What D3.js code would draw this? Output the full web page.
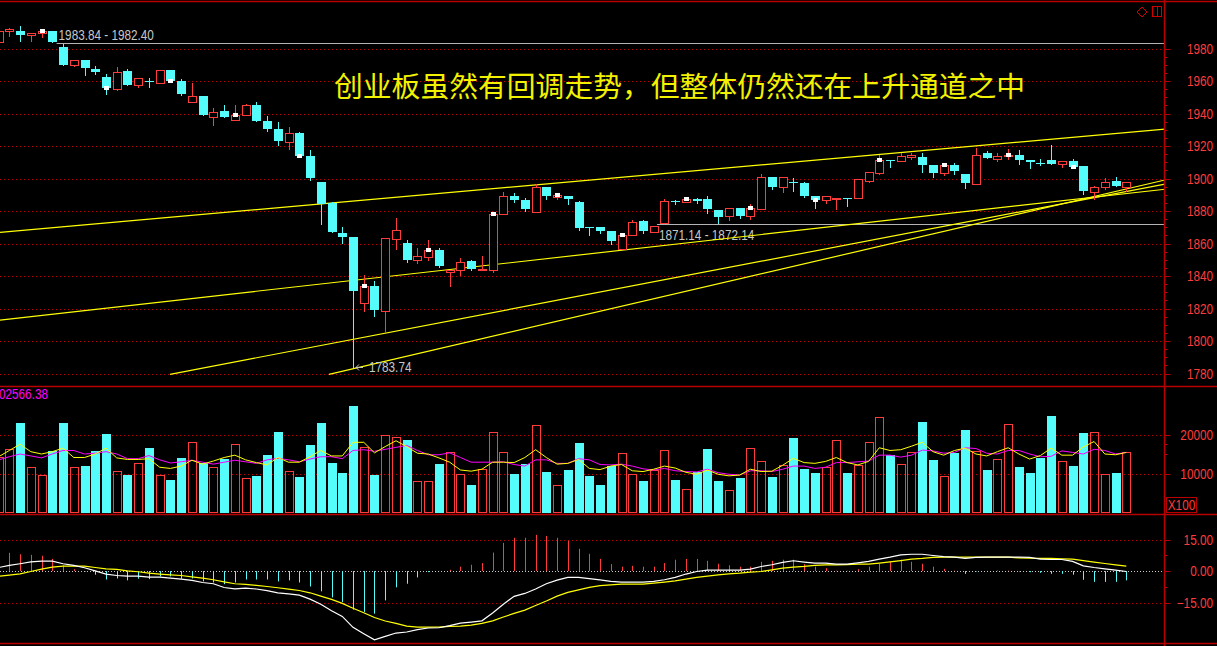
<!DOCTYPE html>
<html>
<head>
<meta charset="utf-8">
<script src="https://cdn.jsdelivr.net/npm/d3@7"></script>
<style>
  body { margin: 0; background: #000; overflow: hidden; }
</style>
</head>
<body>
<script>
// daily candles
const opens = [1984.2,1990.6,1990.8,1988.1,1989.4,1990.8,1980.9,1970.0,1972.7,1967.4,
  1962.5,1955.1,1966.2,1957.4,1960.2,1959.0,1966.8,1960.0,1947.3,1950.8,
  1938.0,1941.5,1935.8,1938.9,1945.2,1935.4,1930.5,1922.6,1927.8,1913.8,
  1897.8,1884.7,1866.5,1864.0,1823.6,1833.8,1818.6,1863.0,1860.3,1850.0,
  1851.9,1856.0,1842.6,1843.5,1849.2,1843.5,1843.9,1878.0,1889.0,1886.8,
  1879.6,1894.8,1888.8,1889.0,1885.5,1870.2,1870.2,1867.7,1856.8,1865.0,
  1873.6,1867.3,1872.4,1886.2,1885.7,1887.4,1887.4,1880.6,1876.7,1881.8,
  1877.1,1881.4,1900.9,1894.6,1898.0,1897.2,1889.2,1886.6,1887.2,1888.2,
  1887.8,1898.5,1903.6,1911.4,1911.0,1913.4,1913.2,1908.3,1903.6,1908.3,
  1902.8,1896.8,1915.5,1912.2,1913.6,1914.5,1911.4,1909.7,1911.2,1909.1,
  1910.8,1907.7,1891.9,1894.6,1898.5,1894.6];
const highs = [1991.5,1992.6,1994.0,1989.5,1992.2,1990.8,1983.0,1972.7,1972.7,1969.0,
  1964.3,1968.6,1967.4,1961.7,1961.7,1966.8,1966.8,1961.2,1959.0,1950.8,
  1943.4,1945.2,1945.2,1945.8,1947.1,1938.5,1934.8,1931.7,1928.6,1917.5,
  1897.8,1885.5,1870.2,1864.0,1840.6,1836.9,1863.2,1875.7,1862.2,1857.2,
  1862.2,1857.0,1843.5,1851.1,1849.8,1852.3,1878.2,1891.7,1891.1,1888.2,
  1896.6,1894.8,1891.0,1889.0,1886.3,1870.2,1870.2,1867.7,1865.2,1874.4,
  1874.4,1870.6,1887.4,1887.0,1887.2,1888.2,1889.2,1880.6,1881.7,1881.8,
  1884.5,1902.8,1900.9,1900.9,1900.3,1897.8,1889.2,1889.2,1888.0,1888.2,
  1899.7,1903.8,1914.3,1911.4,1915.5,1915.9,1915.9,1908.3,1908.5,1909.5,
  1902.8,1918.6,1916.7,1915.5,1918.2,1917.5,1911.4,1912.0,1920.6,1910.6,
  1912.0,1907.7,1895.4,1900.1,1900.9,1897.8];
const lows = [1983.5,1987.9,1984.8,1984.8,1987.3,1984.2,1970.0,1969.2,1963.9,1964.5,
  1952.2,1954.5,1957.7,1956.1,1956.1,1959.0,1960.0,1951.4,1947.3,1939.1,
  1932.9,1938.0,1935.8,1938.9,1935.6,1929.4,1920.6,1918.3,1914.0,1899.1,
  1872.0,1867.1,1860.3,1783.7,1818.6,1815.6,1805.7,1856.8,1848.6,1848.2,
  1849.8,1845.7,1834.0,1840.8,1843.5,1843.5,1842.6,1878.0,1885.7,1880.0,
  1879.6,1887.6,1887.6,1884.5,1868.3,1865.4,1866.6,1859.9,1856.8,1865.0,
  1866.6,1867.3,1872.4,1884.1,1885.7,1885.1,1878.6,1872.8,1874.6,1875.7,
  1875.0,1881.4,1893.7,1891.9,1892.5,1888.8,1881.8,1885.1,1881.4,1883.1,
  1887.8,1897.7,1902.5,1907.3,1911.0,1912.2,1904.0,1901.1,1902.3,1903.0,
  1894.3,1896.8,1912.8,1911.0,1912.2,1909.1,1906.6,1908.5,1909.1,1907.3,
  1907.3,1890.6,1887.2,1893.7,1895.6,1892.3];
const closes = [1990.8,1991.8,1988.3,1989.5,1990.8,1984.2,1970.0,1972.7,1968.2,1965.7,
  1955.7,1965.4,1957.7,1961.7,1959.9,1966.8,1960.0,1952.2,1950.6,1939.1,
  1940.7,1938.0,1939.1,1945.2,1935.6,1930.6,1923.3,1928.0,1914.0,1900.3,
  1884.3,1867.1,1864.2,1831.0,1833.8,1819.1,1863.2,1868.3,1849.8,1852.1,
  1856.0,1846.0,1843.5,1848.4,1844.5,1844.5,1878.2,1889.0,1886.8,1881.4,
  1894.8,1889.4,1889.8,1887.4,1869.7,1869.7,1867.9,1861.7,1865.2,1873.2,
  1867.7,1870.6,1886.2,1885.5,1887.2,1886.3,1881.2,1876.5,1881.7,1877.1,
  1881.7,1900.9,1895.0,1900.9,1897.4,1889.2,1886.8,1889.2,1888.0,1887.8,
  1899.7,1903.8,1911.4,1910.8,1913.8,1914.6,1908.5,1903.6,1908.5,1904.8,
  1897.4,1914.3,1912.8,1913.8,1914.6,1911.6,1910.3,1909.1,1909.1,1910.6,
  1907.3,1892.3,1894.6,1897.8,1895.6,1897.8];
// candles carrying the small white close mark
const markIdx = [4,10,16,22,28,34,40,46,52,58,64,70,76,82,88,94,100];

// volume (x100) and its two averages
const volumes = [14300,16200,22900,11600,9500,15800,22900,11600,11900,15800,
  20100,10600,9600,12600,16500,9500,8300,14000,18200,12600,
  11600,13700,17500,8800,9400,14700,20600,10600,9100,17300,
  22900,12700,10100,27300,16700,9600,19800,19300,18600,8200,
  8000,12400,15400,9800,7100,11100,20600,15400,9900,12400,
  22400,10400,7000,10900,17800,9400,7100,11900,15200,9800,
  8100,10900,15900,8300,5900,10500,16300,8100,5700,8800,
  16500,13100,9100,12100,19100,11200,10100,11600,18500,10100,
  12100,18200,24400,14700,12400,15400,23200,13500,9300,15300,
  21200,15700,10900,13600,22600,11700,10100,14000,24700,13100,
  11900,20400,20700,10000,10100,15400];
const volMa5 = [14300,15900,17500,15600,15000,15600,16500,14100,14100,15000,
  16500,14000,13600,13600,13800,11600,11300,11900,13400,12400,
  13200,14100,14700,13500,12800,12200,14100,12900,12900,14300,
  15900,14500,14500,18000,18000,15300,16900,18400,16900,15200,
  15000,14000,12900,10900,10600,11100,12900,12900,12800,14100,
  16100,14100,12400,12600,13600,11300,11000,11900,12300,10700,
  10500,11100,11900,11400,10300,9800,10900,9800,9400,9600,
  11100,10500,10600,12100,13900,12800,12600,13100,14100,12800,
  12200,13100,16600,15900,16100,17000,18000,15600,14700,15900,
  16500,15000,14500,15600,16600,15000,13700,14600,16500,14700,
  14700,16800,18200,15000,14800,15400];
const volMa10 = [13500,14300,15000,14500,14000,15000,15900,15900,15000,15200,
  15600,15000,13800,13800,14600,13500,12700,13000,13400,12900,
  12400,12900,13400,13000,12600,13500,13900,13500,13000,13700,
  14300,14300,13800,15900,16100,15700,16200,16700,17200,15900,
  14800,14800,15300,14100,12900,12900,12900,13000,12300,11900,
  13500,13500,12600,12600,13800,13500,12300,12200,12400,11900,
  11200,10900,11300,10700,10500,10400,11100,10200,9800,9600,
  10700,10700,10500,11100,11900,11900,11300,11600,12800,12800,
  13000,13200,14700,14700,14200,14700,16000,15800,15200,15400,
  16600,16400,15200,15000,15900,15900,15000,14300,14400,15800,
  15400,15000,16200,15900,15000,15400];

// MACD
const dif = [1.7,2.7,3.5,4.4,4.7,4.7,3.5,2.7,1.6,0.1,
  -1.4,-2.1,-2.4,-2.4,-2.9,-2.9,-3.3,-3.8,-4.4,-5.4,
  -6.0,-7.8,-8.4,-8.1,-8.5,-9.3,-10.3,-10.8,-11.4,-13.3,
  -15.7,-18.8,-21.5,-26.7,-29.7,-32.6,-31.0,-29.4,-28.9,-27.8,
  -27.0,-26.9,-25.9,-24.7,-24.2,-23.6,-19.9,-15.7,-12.0,-10.6,
  -8.5,-6.0,-4.3,-3.0,-3.0,-3.6,-4.2,-4.9,-5.2,-5.2,
  -5.2,-4.9,-4.1,-3.0,-1.4,-0.2,0.5,0.5,0.5,0.5,
  0.9,2.2,3.0,4.1,4.9,4.3,3.8,3.8,3.3,3.3,
  3.9,4.6,5.7,6.6,7.7,8.0,8.0,7.4,6.9,6.6,
  6.0,6.5,6.6,6.6,6.6,6.6,6.5,5.7,5.5,5.5,
  4.6,2.5,1.7,1.1,0.5,-0.2];
const dea = [-2.5,-1.9,-1.3,-0.2,0.9,1.9,2.4,2.4,2.4,1.7,
  1.1,0.8,0.1,-0.3,-1.0,-1.4,-1.8,-2.1,-2.7,-3.3,
  -4.1,-5.1,-6.0,-6.3,-6.8,-7.3,-7.9,-8.6,-9.2,-10.3,
  -11.9,-13.4,-15.3,-17.6,-19.8,-22.0,-23.7,-24.8,-26.1,-26.6,
  -26.6,-26.6,-26.2,-26.1,-25.6,-24.8,-23.6,-21.8,-20.1,-18.5,
  -16.3,-14.2,-11.9,-10.1,-8.9,-7.7,-6.9,-6.5,-6.2,-6.2,
  -6.2,-5.7,-5.2,-4.6,-3.8,-3.0,-2.4,-1.8,-1.3,-1.0,
  -0.5,-0.2,0.6,1.4,1.9,2.2,2.7,3.0,3.0,3.1,
  3.3,3.3,3.8,4.4,5.0,5.7,6.0,6.5,6.6,6.6,
  6.6,6.6,6.6,6.6,6.6,6.3,6.1,6.0,6.0,5.8,
  5.7,5.0,4.3,3.6,3.0,2.4];
const macdHist = [8.4,8.7,8.0,7.7,7.3,5.8,2.7,0.9,-0.2,-1.7,
  -4.0,-3.5,-4.4,-3.6,-3.8,-2.5,-2.5,-3.6,-3.5,-4.9,
  -5.4,-6.2,-5.4,-4.0,-4.0,-4.0,-4.9,-4.4,-5.4,-7.3,
  -9.6,-12.5,-14.7,-18.3,-19.4,-20.2,-13.9,-7.7,-6.0,-3.0,
  -0.5,0.1,0.6,2.1,3.0,3.8,8.8,13.4,15.8,15.8,
  17.2,16.7,15.8,14.4,10.6,8.2,5.8,3.3,2.1,2.5,
  2.1,2.1,3.8,5.4,5.8,5.8,4.9,3.5,2.8,2.1,
  2.1,4.4,4.9,5.4,5.4,3.3,2.1,1.4,0.2,0.2,
  0.9,2.1,3.5,4.4,5.4,4.4,3.5,2.1,1.1,0.2,
  -1.3,-0.2,0.1,0.3,0.2,-0.2,-0.5,-0.8,-1.3,-1.3,
  -1.7,-4.1,-5.1,-5.1,-5.1,-4.4];

// hand-drawn trend lines: [candle index, price] end points
const trendLines = [
  [[0.13, 1866.9], [108.6, 1930.4]],
  [[0.13, 1812.9], [108.6, 1893.4]],
  [[15.96, 1779.5], [108.6, 1896.6]],
  [[30.76, 1779.5], [108.6, 1899.1]]
];
// price range markers
const rangeLines = [
  { from: 5.4, price: 1983.2, label: "1983.84 - 1982.40" },
  { from: 61.3, price: 1872.0, label: "1871.14 - 1872.14" }
];
const lowMark = { idx: 33, price: 1783.74, label: "1783.74" };

const priceTicks = [1780,1800,1820,1840,1860,1880,1900,1920,1940,1960,1980];
const volTicks = [10000, 20000];
const macdTicks = [-15, 0, 15];
const title = "创业板虽然有回调走势，但整体仍然还在上升通道之中";

const W = 1217, H = 646;
const axisX = 1164.5;
const RED = "#ff3c3c", CYAN = "#54fcfc", FRAME = "#b80000", GRIDC = "#c00000";
const NUMFONT = "'Liberation Sans', Arial, sans-serif";

const svg = d3.select("body").append("svg")
  .attr("width", W).attr("height", H)
  .style("background", "#000")
  .style("display", "block");

const x = d3.scaleLinear().domain([0, 105]).range([-1.41, 1126.3]);
const yP = d3.scaleLinear().domain([1780, 1980]).range([373.5, 48.5]);
const yV = d3.scaleLinear().domain([0, 20000]).range([512.5, 434.5]);
const yM = d3.scaleLinear().domain([-15, 15]).range([602.7, 539.5]);

const idx = d3.range(opens.length);
const cx = i => Math.round(x(i));

// narrow numeric text: regular face squeezed horizontally
function numText(g, tx, ty, str, fill, anchor) {
  return g.append("text")
    .attr("transform", `translate(${tx},${ty}) scale(0.84,1)`)
    .attr("text-anchor", anchor || "start")
    .attr("fill", fill)
    .style("font-family", NUMFONT).style("font-size", "14px")
    .text(str);
}

// clip regions per pane
const defs = svg.append("defs");
[["clipP", 2, 384], ["clipV", 387, 127], ["clipM", 515, 128]].forEach(c => {
  defs.append("clipPath").attr("id", c[0])
    .append("rect").attr("x", 0).attr("y", c[1]).attr("width", axisX).attr("height", c[2]);
});

// dotted grid lines
function grid(g, scale, ticks) {
  g.selectAll("line.grid").data(ticks).join("line")
    .attr("class", "grid")
    .attr("x1", 0).attr("x2", axisX - 2)
    .attr("y1", d => Math.round(scale(d)) + 0.5)
    .attr("y2", d => Math.round(scale(d)) + 0.5)
    .attr("stroke", GRIDC).attr("stroke-width", 1)
    .attr("stroke-dasharray", "1,3");
}

// ---------- price pane ----------
const gP = svg.append("g").attr("clip-path", "url(#clipP)");
grid(gP, yP, priceTicks);

gP.append("text")
  .attr("x", 334).attr("y", 97)
  .attr("fill", "#f2f200")
  .style("font-family", "'Noto Sans CJK SC', sans-serif")
  .style("font-size", "28.8px")
  .text(title);

rangeLines.forEach((r, k) => {
  const yy = Math.round(yP(r.price)) + 0.5;
  gP.append("line")
    .attr("x1", x(r.from)).attr("x2", axisX)
    .attr("y1", yy).attr("y2", yy)
    .attr("stroke", "#b4b4b4").attr("stroke-width", 1);
  numText(gP, x(r.from) + 2, k === 0 ? yy - 4 : yy + 15, r.label, "#c8c8c8");
});

const trend = d3.line().x(d => x(d[0])).y(d => yP(d[1]));
gP.selectAll("path.trend").data(trendLines).join("path")
  .attr("class", "trend")
  .attr("d", trend)
  .attr("fill", "none").attr("stroke", "#ffff00").attr("stroke-width", 1.2);

// wicks
gP.selectAll("line.wick").data(idx).join("line")
  .attr("class", "wick")
  .attr("x1", i => cx(i) + 0.5).attr("x2", i => cx(i) + 0.5)
  .attr("y1", i => Math.round(yP(highs[i])))
  .attr("y2", i => Math.round(yP(lows[i])) + 1)
  .attr("stroke", i => closes[i] > opens[i] ? RED : CYAN)
  .attr("stroke-width", 1);

// bodies
gP.selectAll("rect.body").data(idx).join("rect")
  .attr("class", "body")
  .each(function (i) {
    const up = closes[i] > opens[i];
    const t = Math.round(yP(Math.max(opens[i], closes[i])));
    const b = Math.round(yP(Math.min(opens[i], closes[i])));
    const el = d3.select(this);
    if (up) {
      el.attr("x", cx(i) - 4 + 0.5).attr("y", t + 0.5)
        .attr("width", 8).attr("height", Math.max(b - t, 0))
        .attr("fill", "#000").attr("stroke", RED).attr("stroke-width", 1);
    } else {
      el.attr("x", cx(i) - 4).attr("y", t)
        .attr("width", 9).attr("height", Math.max(b - t, 1))
        .attr("fill", CYAN);
    }
  });

// white close marks
gP.selectAll("rect.mark").data(markIdx).join("rect")
  .attr("class", "mark")
  .attr("x", i => cx(i) - 2).attr("y", i => Math.round(yP(closes[i])) - 2)
  .attr("width", 5).attr("height", 4)
  .attr("fill", "#fff");

// low annotation
const lx = cx(lowMark.idx) + 2, ly = yP(lowMark.price);
gP.append("path")
  .attr("d", `M${lx + 8},${ly} L${lx + 1},${ly} M${lx + 4},${ly - 3} L${lx + 1},${ly} L${lx + 4},${ly + 3}`)
  .attr("stroke", "#c8c8c8").attr("fill", "none").attr("stroke-width", 1);
numText(gP, lx + 14, ly + 5, lowMark.label, "#c8c8c8");

// ---------- volume pane ----------
const gV = svg.append("g").attr("clip-path", "url(#clipV)");
grid(gV, yV, volTicks);

gV.selectAll("rect.vol").data(idx).join("rect")
  .attr("class", "vol")
  .each(function (i) {
    const up = closes[i] > opens[i];
    const t = Math.round(yV(volumes[i]));
    const b = Math.round(yV(0));
    const el = d3.select(this);
    if (up) {
      el.attr("x", cx(i) - 4 + 0.5).attr("y", t + 0.5)
        .attr("width", 8).attr("height", b - t - 1)
        .attr("fill", "none").attr("stroke", RED).attr("stroke-width", 1);
    } else {
      el.attr("x", cx(i) - 4).attr("y", t)
        .attr("width", 9).attr("height", b - t)
        .attr("fill", CYAN);
    }
  });

const volLine = arr => d3.line().x((d, i) => x(i)).y(d => yV(d))(arr);
gV.append("path").attr("d", volLine(volMa10))
  .attr("fill", "none").attr("stroke", "#ff00ff").attr("stroke-width", 1);
gV.append("path").attr("d", volLine(volMa5))
  .attr("fill", "none").attr("stroke", "#ffff00").attr("stroke-width", 1);

numText(gV, -1, 399, "02566.38", "#ff00ff");

// ---------- MACD pane ----------
const gM = svg.append("g").attr("clip-path", "url(#clipM)");
grid(gM, yM, [-15, 15]);
gM.append("line")
  .attr("x1", 0).attr("x2", axisX - 2)
  .attr("y1", Math.round(yM(0)) + 0.5).attr("y2", Math.round(yM(0)) + 0.5)
  .attr("stroke", "#c8c8c8").attr("stroke-dasharray", "1,2");

gM.selectAll("line.hist").data(idx).join("line")
  .attr("class", "hist")
  .attr("x1", i => cx(i) + 0.5).attr("x2", i => cx(i) + 0.5)
  .attr("y1", yM(0))
  .attr("y2", i => yM(macdHist[i]))
  .attr("stroke", i => macdHist[i] >= 0 ? RED : CYAN)
  .attr("stroke-width", 1);

const mLine = arr => d3.line().x((d, i) => x(i)).y(d => yM(d))(arr);
gM.append("path").attr("d", mLine(dea))
  .attr("fill", "none").attr("stroke", "#ffff00").attr("stroke-width", 1.2);
gM.append("path").attr("d", mLine(dif))
  .attr("fill", "none").attr("stroke", "#ffffff").attr("stroke-width", 1.2);

// ---------- frame & right axis ----------
[1.5, 386.5, 514.5, 643.5].forEach(yy => {
  svg.append("line").attr("x1", 0).attr("x2", W).attr("y1", yy).attr("y2", yy)
    .attr("stroke", FRAME).attr("stroke-width", 1.5);
});
svg.append("line").attr("x1", axisX).attr("x2", axisX).attr("y1", 0).attr("y2", H)
  .attr("stroke", FRAME).attr("stroke-width", 1.5);

function axisTicks(scale, major, minor) {
  svg.append("g").selectAll("line").data(minor).join("line")
    .attr("x1", axisX).attr("x2", axisX + 3)
    .attr("y1", d => Math.round(scale(d)) + 0.5).attr("y2", d => Math.round(scale(d)) + 0.5)
    .attr("stroke", FRAME);
  svg.append("g").selectAll("line").data(major).join("line")
    .attr("x1", axisX).attr("x2", axisX + 6)
    .attr("y1", d => Math.round(scale(d)) + 0.5).attr("y2", d => Math.round(scale(d)) + 0.5)
    .attr("stroke", FRAME);
}
function axisLabels(scale, ticks, fmt) {
  const g = svg.append("g");
  ticks.forEach(d => numText(g, 1213, scale(d) + 5, fmt(d), RED, "end"));
}
axisTicks(yP, priceTicks, d3.range(1785, 1980, 5));
axisLabels(yP, priceTicks, d => d);
axisTicks(yV, volTicks, [15000, 17500]);
axisLabels(yV, volTicks, d => d);
axisTicks(yM, macdTicks, [-7.5, 7.5]);
axisLabels(yM, macdTicks, d => d3.format(".2f")(d));

// X100 unit box
svg.append("rect").attr("x", 1166.5).attr("y", 497.5).attr("width", 30).attr("height", 15)
  .attr("fill", "none").attr("stroke", FRAME);
numText(svg, 1181.5, 510, "X100", RED, "middle");

// small icons top right
svg.append("path").attr("d", "M1142,7 L1147,12 L1142,17 L1137,12 Z")
  .attr("fill", "none").attr("stroke", "#d00000");
svg.append("rect").attr("x", 1152.5).attr("y", 6.5).attr("width", 9).attr("height", 10)
  .attr("fill", "none").attr("stroke", "#d00000");
svg.append("line").attr("x1", 1157.5).attr("x2", 1157.5).attr("y1", 6.5).attr("y2", 16.5)
  .attr("stroke", "#d00000");
</script>
</body>
</html>
